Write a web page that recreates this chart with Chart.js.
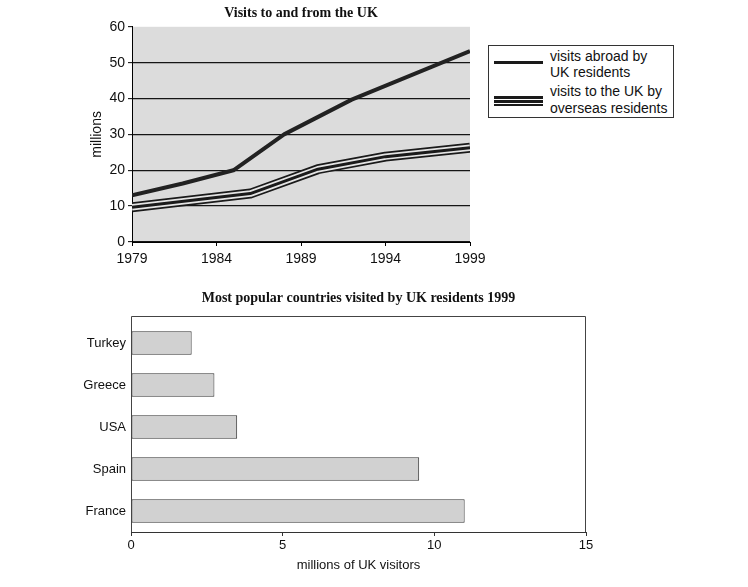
<!DOCTYPE html>
<html>
<head>
<meta charset="utf-8">
<script src="https://cdn.jsdelivr.net/npm/chart.js@4.4.1/dist/chart.umd.min.js"></script>
<style>
html,body{margin:0;padding:0;background:#fff;}
body{width:748px;height:587px;position:relative;overflow:hidden;font-family:"Liberation Sans",Arial,sans-serif;color:#111;}
#c1{position:absolute;left:0;top:0;}
#c2{position:absolute;left:0;top:280px;}
#legend{position:absolute;left:488px;top:45px;width:184px;height:71px;border:1px solid #333;background:#fff;}
#legend .t{position:absolute;left:61px;font-size:14px;line-height:16px;white-space:nowrap;}
#legend .ln{position:absolute;left:5px;width:49px;background:#1a1a1a;}
</style>
</head>
<body>
<canvas id="c1" width="602" height="270"></canvas>
<canvas id="c2" width="717" height="300"></canvas>
<div id="legend">
  <div class="ln" style="top:15px;height:3px;"></div>
  <div class="t" style="top:2px;">visits abroad by</div>
  <div class="t" style="top:18px;">UK residents</div>
  <div class="ln" style="top:50px;height:2.5px;"></div>
  <div class="ln" style="top:54px;height:2.5px;"></div>
  <div class="ln" style="top:58px;height:1.5px;"></div>
  <div class="t" style="top:37px;">visits to the UK by</div>
  <div class="t" style="top:54px;">overseas residents</div>
</div>
<script>
// ---- Data: line chart ----
const abroadYears = [1979, 1982, 1985, 1988, 1992, 1999];
const abroadValues = [13, 16.3, 20, 30, 39.7, 53.2];
const overseasYears = [1979, 1986, 1990, 1994, 1999];
const overseasValues = [9.7, 13.5, 20.3, 23.8, 26.3];
const yearTicks = [1979, 1984, 1989, 1994, 1999];
const millionTicks = [0, 10, 20, 30, 40, 50, 60];

// ---- Data: bar chart ----
const countries = ['Turkey', 'Greece', 'USA', 'Spain', 'France'];
const visitors = [2.0, 2.75, 3.5, 9.5, 11.0];
const visitorTicks = [0, 5, 10, 15];

Chart.defaults.font.family = '"Liberation Sans", Arial, sans-serif';
Chart.defaults.color = '#111';

const plotBg = {
  id: 'plotBg',
  beforeDraw(chart, args, opts) {
    if (!opts || !opts.color) return;
    const {ctx, chartArea: a} = chart;
    ctx.save();
    ctx.fillStyle = opts.color;
    ctx.fillRect(a.left, a.top, a.right - a.left, a.bottom - a.top);
    ctx.restore();
  }
};
// box round the bar plot; its top sits a little above the category area
const frame = {
  id: 'frame',
  afterDraw(chart, args, opts) {
    if (!opts || !opts.color) return;
    const {ctx, chartArea: a} = chart;
    const top = Math.round(a.top - (opts.raise || 0)) + 0.5;
    ctx.save();
    ctx.strokeStyle = opts.color;
    ctx.lineWidth = 1;
    ctx.beginPath();
    ctx.moveTo(Math.round(a.left) + 0.5, Math.round(a.bottom));
    ctx.lineTo(Math.round(a.left) + 0.5, top);
    ctx.lineTo(Math.round(a.right) - 0.5, top);
    ctx.lineTo(Math.round(a.right) - 0.5, Math.round(a.bottom));
    ctx.stroke();
    ctx.restore();
  }
};

// invisible right-hand spacer axis so the title stays centred over the plot
const spacerAxis = (w) => ({
  type: 'linear', position: 'right', display: true,
  grid: {display: false, drawTicks: false},
  ticks: {display: false},
  border: {display: false},
  afterFit: s => { s.width = w; }
});

const toXY = (xs, ys) => xs.map((x, i) => ({x: x, y: ys[i]}));
const abroad = toXY(abroadYears, abroadValues);
const overseas = toXY(overseasYears, overseasValues);

new Chart(document.getElementById('c1'), {
  type: 'line',
  plugins: [plotBg],
  data: {
    datasets: [
      {label: 'visits abroad by UK residents', data: abroad, borderColor: '#222', borderWidth: 4, borderJoinStyle: 'round'},
      {label: 'visits to the UK by overseas residents', data: overseas, borderColor: '#1a1a1a', borderWidth: 3, borderJoinStyle: 'round'},
      {label: 'overseas gap', data: overseas, borderColor: '#e4e4e4', borderWidth: 6.5, borderJoinStyle: 'round'},
      {label: 'overseas edge', data: overseas, borderColor: '#1a1a1a', borderWidth: 10, borderJoinStyle: 'round'}
    ]
  },
  options: {
    responsive: false,
    animation: false,
    layout: {padding: {left: 0, right: 0, top: 1, bottom: 0}},
    elements: {point: {radius: 0}, line: {tension: 0}},
    plugins: {
      legend: {display: false},
      tooltip: {enabled: false},
      plotBg: {color: '#dcdcdc'},
      title: {
        display: true,
        text: 'Visits to and from the UK',
        font: {family: '"Liberation Serif", "Times New Roman", serif', size: 14, weight: 'bold'},
        color: '#111',
        padding: {top: 4, bottom: 5}
      }
    },
    scales: {
      x: {
        type: 'linear', min: 1979, max: 1999,
        afterBuildTicks: axis => { axis.ticks = yearTicks.map(v => ({value: v})); },
        ticks: {font: {size: 14}, color: '#111', padding: 5, maxRotation: 0, autoSkip: false, callback: v => String(v)},
        grid: {drawOnChartArea: false, drawTicks: true, tickLength: 4, tickColor: '#000'},
        border: {color: '#000', width: 1},
        afterFit: s => { s.height = 28; }
      },
      y: {
        min: 0, max: 60,
        afterBuildTicks: axis => { axis.ticks = millionTicks.map(v => ({value: v})); },
        ticks: {font: {size: 14}, color: '#111', padding: 3},
        grid: {
          color: ctx => (ctx.tick && ctx.tick.value === 60) ? 'rgba(0,0,0,0)' : '#151515',
          lineWidth: 1.3, tickLength: 4, tickColor: '#000', tickWidth: 1
        },
        border: {color: '#000', width: 1},
        title: {display: true, text: 'millions', font: {size: 14}, color: '#111', padding: {top: 89, bottom: 0}},
        afterFit: s => { s.width = 132; }
      },
      spacer: spacerAxis(132)
    }
  }
});

new Chart(document.getElementById('c2'), {
  type: 'bar',
  plugins: [frame],
  data: {
    labels: countries,
    datasets: [{
      label: 'millions of UK visitors',
      data: visitors,
      backgroundColor: '#d1d1d1',
      borderColor: '#333',
      borderWidth: 1,
      borderSkipped: false,
      barPercentage: 0.56,
      categoryPercentage: 1
    }]
  },
  options: {
    indexAxis: 'y',
    responsive: false,
    animation: false,
    layout: {padding: {left: 0, right: 0, top: 6, bottom: 0}},
    plugins: {
      legend: {display: false},
      tooltip: {enabled: false},
      frame: {color: '#444', raise: 6},
      title: {
        display: true,
        text: 'Most popular countries visited by UK residents 1999',
        font: {family: '"Liberation Serif", "Times New Roman", serif', size: 14, weight: 'bold'},
        color: '#111',
        padding: {top: 4, bottom: 15.2}
      }
    },
    scales: {
      x: {
        min: 0, max: 15,
        afterBuildTicks: axis => { axis.ticks = visitorTicks.map(v => ({value: v})); },
        ticks: {font: {size: 13}, color: '#111', padding: 2},
        grid: {drawOnChartArea: false, drawTicks: true, tickLength: 4, tickColor: '#333'},
        border: {color: '#333', width: 1},
        title: {display: true, text: 'millions of UK visitors', font: {size: 13}, color: '#111', padding: {top: 2, bottom: 7}},
        afterFit: s => { s.height = 48; }
      },
      y: {
        ticks: {font: {size: 13}, color: '#111', padding: 5},
        grid: {display: false, drawTicks: false},
        border: {display: true, color: '#333', width: 1},
        afterFit: s => { s.width = 131; }
      },
      spacer: spacerAxis(131)
    }
  }
});
</script>
</body>
</html>
